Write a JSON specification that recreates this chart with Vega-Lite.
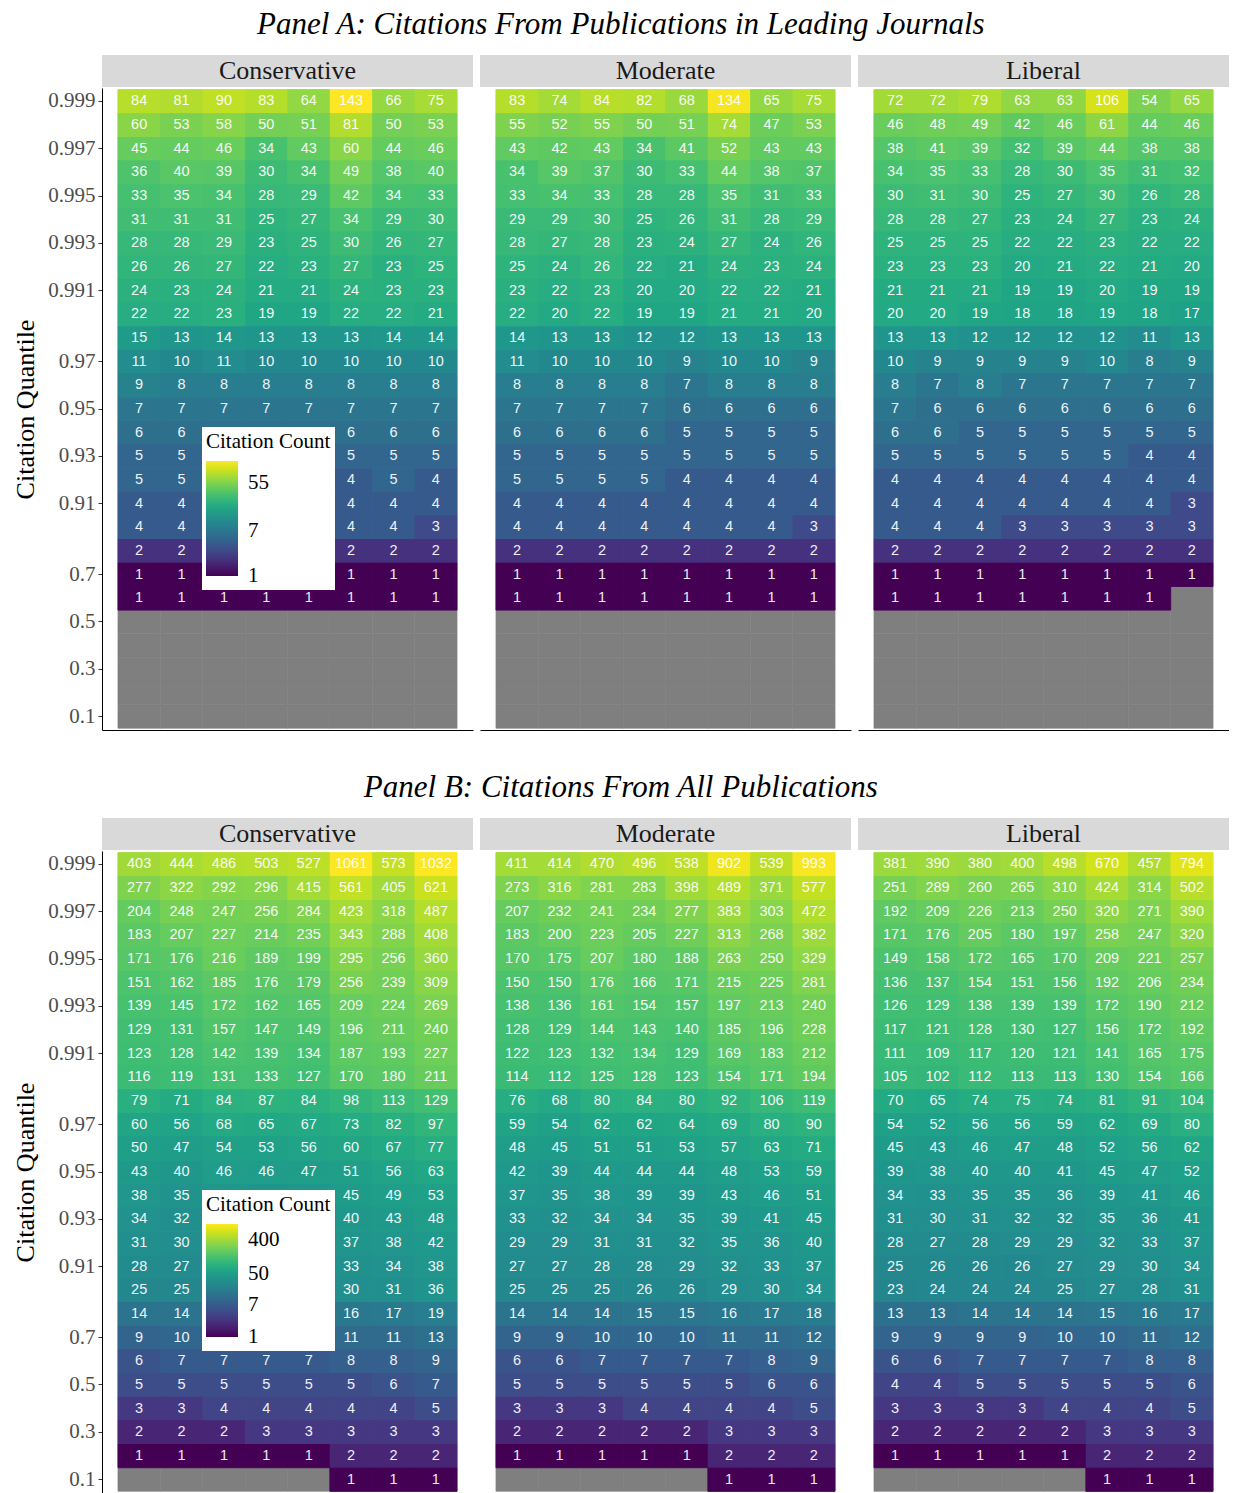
{
"$schema":"https://vega.github.io/schema/vega-lite/v6.json",
"padding":{"left":12,"top":9,"right":0,"bottom":0},
"background":"white",
"config":{"font":"Liberation Serif","view":{"stroke":null},"axis":{"grid":false}},
"datasets":{
"AC":[
{"q":0.999,"c":1,"n":84},{"q":0.999,"c":2,"n":81},{"q":0.999,"c":3,"n":90},{"q":0.999,"c":4,"n":83},{"q":0.999,"c":5,"n":64},{"q":0.999,"c":6,"n":143},{"q":0.999,"c":7,"n":66},{"q":0.999,"c":8,"n":75},
{"q":0.998,"c":1,"n":60},{"q":0.998,"c":2,"n":53},{"q":0.998,"c":3,"n":58},{"q":0.998,"c":4,"n":50},{"q":0.998,"c":5,"n":51},{"q":0.998,"c":6,"n":81},{"q":0.998,"c":7,"n":50},{"q":0.998,"c":8,"n":53},
{"q":0.997,"c":1,"n":45},{"q":0.997,"c":2,"n":44},{"q":0.997,"c":3,"n":46},{"q":0.997,"c":4,"n":34},{"q":0.997,"c":5,"n":43},{"q":0.997,"c":6,"n":60},{"q":0.997,"c":7,"n":44},{"q":0.997,"c":8,"n":46},
{"q":0.996,"c":1,"n":36},{"q":0.996,"c":2,"n":40},{"q":0.996,"c":3,"n":39},{"q":0.996,"c":4,"n":30},{"q":0.996,"c":5,"n":34},{"q":0.996,"c":6,"n":49},{"q":0.996,"c":7,"n":38},{"q":0.996,"c":8,"n":40},
{"q":0.995,"c":1,"n":33},{"q":0.995,"c":2,"n":35},{"q":0.995,"c":3,"n":34},{"q":0.995,"c":4,"n":28},{"q":0.995,"c":5,"n":29},{"q":0.995,"c":6,"n":42},{"q":0.995,"c":7,"n":34},{"q":0.995,"c":8,"n":33},
{"q":0.994,"c":1,"n":31},{"q":0.994,"c":2,"n":31},{"q":0.994,"c":3,"n":31},{"q":0.994,"c":4,"n":25},{"q":0.994,"c":5,"n":27},{"q":0.994,"c":6,"n":34},{"q":0.994,"c":7,"n":29},{"q":0.994,"c":8,"n":30},
{"q":0.993,"c":1,"n":28},{"q":0.993,"c":2,"n":28},{"q":0.993,"c":3,"n":29},{"q":0.993,"c":4,"n":23},{"q":0.993,"c":5,"n":25},{"q":0.993,"c":6,"n":30},{"q":0.993,"c":7,"n":26},{"q":0.993,"c":8,"n":27},
{"q":0.992,"c":1,"n":26},{"q":0.992,"c":2,"n":26},{"q":0.992,"c":3,"n":27},{"q":0.992,"c":4,"n":22},{"q":0.992,"c":5,"n":23},{"q":0.992,"c":6,"n":27},{"q":0.992,"c":7,"n":23},{"q":0.992,"c":8,"n":25},
{"q":0.991,"c":1,"n":24},{"q":0.991,"c":2,"n":23},{"q":0.991,"c":3,"n":24},{"q":0.991,"c":4,"n":21},{"q":0.991,"c":5,"n":21},{"q":0.991,"c":6,"n":24},{"q":0.991,"c":7,"n":23},{"q":0.991,"c":8,"n":23},
{"q":0.99,"c":1,"n":22},{"q":0.99,"c":2,"n":22},{"q":0.99,"c":3,"n":23},{"q":0.99,"c":4,"n":19},{"q":0.99,"c":5,"n":19},{"q":0.99,"c":6,"n":22},{"q":0.99,"c":7,"n":22},{"q":0.99,"c":8,"n":21},
{"q":0.98,"c":1,"n":15},{"q":0.98,"c":2,"n":13},{"q":0.98,"c":3,"n":14},{"q":0.98,"c":4,"n":13},{"q":0.98,"c":5,"n":13},{"q":0.98,"c":6,"n":13},{"q":0.98,"c":7,"n":14},{"q":0.98,"c":8,"n":14},
{"q":0.97,"c":1,"n":11},{"q":0.97,"c":2,"n":10},{"q":0.97,"c":3,"n":11},{"q":0.97,"c":4,"n":10},{"q":0.97,"c":5,"n":10},{"q":0.97,"c":6,"n":10},{"q":0.97,"c":7,"n":10},{"q":0.97,"c":8,"n":10},
{"q":0.96,"c":1,"n":9},{"q":0.96,"c":2,"n":8},{"q":0.96,"c":3,"n":8},{"q":0.96,"c":4,"n":8},{"q":0.96,"c":5,"n":8},{"q":0.96,"c":6,"n":8},{"q":0.96,"c":7,"n":8},{"q":0.96,"c":8,"n":8},
{"q":0.95,"c":1,"n":7},{"q":0.95,"c":2,"n":7},{"q":0.95,"c":3,"n":7},{"q":0.95,"c":4,"n":7},{"q":0.95,"c":5,"n":7},{"q":0.95,"c":6,"n":7},{"q":0.95,"c":7,"n":7},{"q":0.95,"c":8,"n":7},
{"q":0.94,"c":1,"n":6},{"q":0.94,"c":2,"n":6},{"q":0.94,"c":3,"n":6},{"q":0.94,"c":4,"n":6},{"q":0.94,"c":5,"n":6},{"q":0.94,"c":6,"n":6},{"q":0.94,"c":7,"n":6},{"q":0.94,"c":8,"n":6},
{"q":0.93,"c":1,"n":5},{"q":0.93,"c":2,"n":5},{"q":0.93,"c":3,"n":5},{"q":0.93,"c":4,"n":5},{"q":0.93,"c":5,"n":5},{"q":0.93,"c":6,"n":5},{"q":0.93,"c":7,"n":5},{"q":0.93,"c":8,"n":5},
{"q":0.92,"c":1,"n":5},{"q":0.92,"c":2,"n":5},{"q":0.92,"c":3,"n":5},{"q":0.92,"c":4,"n":4},{"q":0.92,"c":5,"n":4},{"q":0.92,"c":6,"n":4},{"q":0.92,"c":7,"n":5},{"q":0.92,"c":8,"n":4},
{"q":0.91,"c":1,"n":4},{"q":0.91,"c":2,"n":4},{"q":0.91,"c":3,"n":4},{"q":0.91,"c":4,"n":4},{"q":0.91,"c":5,"n":4},{"q":0.91,"c":6,"n":4},{"q":0.91,"c":7,"n":4},{"q":0.91,"c":8,"n":4},
{"q":0.9,"c":1,"n":4},{"q":0.9,"c":2,"n":4},{"q":0.9,"c":3,"n":4},{"q":0.9,"c":4,"n":3},{"q":0.9,"c":5,"n":3},{"q":0.9,"c":6,"n":4},{"q":0.9,"c":7,"n":4},{"q":0.9,"c":8,"n":3},
{"q":0.8,"c":1,"n":2},{"q":0.8,"c":2,"n":2},{"q":0.8,"c":3,"n":2},{"q":0.8,"c":4,"n":2},{"q":0.8,"c":5,"n":2},{"q":0.8,"c":6,"n":2},{"q":0.8,"c":7,"n":2},{"q":0.8,"c":8,"n":2},
{"q":0.7,"c":1,"n":1},{"q":0.7,"c":2,"n":1},{"q":0.7,"c":3,"n":1},{"q":0.7,"c":4,"n":1},{"q":0.7,"c":5,"n":1},{"q":0.7,"c":6,"n":1},{"q":0.7,"c":7,"n":1},{"q":0.7,"c":8,"n":1},
{"q":0.6,"c":1,"n":1},{"q":0.6,"c":2,"n":1},{"q":0.6,"c":3,"n":1},{"q":0.6,"c":4,"n":1},{"q":0.6,"c":5,"n":1},{"q":0.6,"c":6,"n":1},{"q":0.6,"c":7,"n":1},{"q":0.6,"c":8,"n":1},
{"q":0.5,"c":1,"n":null},{"q":0.5,"c":2,"n":null},{"q":0.5,"c":3,"n":null},{"q":0.5,"c":4,"n":null},{"q":0.5,"c":5,"n":null},{"q":0.5,"c":6,"n":null},{"q":0.5,"c":7,"n":null},{"q":0.5,"c":8,"n":null},
{"q":0.4,"c":1,"n":null},{"q":0.4,"c":2,"n":null},{"q":0.4,"c":3,"n":null},{"q":0.4,"c":4,"n":null},{"q":0.4,"c":5,"n":null},{"q":0.4,"c":6,"n":null},{"q":0.4,"c":7,"n":null},{"q":0.4,"c":8,"n":null},
{"q":0.3,"c":1,"n":null},{"q":0.3,"c":2,"n":null},{"q":0.3,"c":3,"n":null},{"q":0.3,"c":4,"n":null},{"q":0.3,"c":5,"n":null},{"q":0.3,"c":6,"n":null},{"q":0.3,"c":7,"n":null},{"q":0.3,"c":8,"n":null},
{"q":0.2,"c":1,"n":null},{"q":0.2,"c":2,"n":null},{"q":0.2,"c":3,"n":null},{"q":0.2,"c":4,"n":null},{"q":0.2,"c":5,"n":null},{"q":0.2,"c":6,"n":null},{"q":0.2,"c":7,"n":null},{"q":0.2,"c":8,"n":null},
{"q":0.1,"c":1,"n":null},{"q":0.1,"c":2,"n":null},{"q":0.1,"c":3,"n":null},{"q":0.1,"c":4,"n":null},{"q":0.1,"c":5,"n":null},{"q":0.1,"c":6,"n":null},{"q":0.1,"c":7,"n":null},{"q":0.1,"c":8,"n":null}
],
"AM":[
{"q":0.999,"c":1,"n":83},{"q":0.999,"c":2,"n":74},{"q":0.999,"c":3,"n":84},{"q":0.999,"c":4,"n":82},{"q":0.999,"c":5,"n":68},{"q":0.999,"c":6,"n":134},{"q":0.999,"c":7,"n":65},{"q":0.999,"c":8,"n":75},
{"q":0.998,"c":1,"n":55},{"q":0.998,"c":2,"n":52},{"q":0.998,"c":3,"n":55},{"q":0.998,"c":4,"n":50},{"q":0.998,"c":5,"n":51},{"q":0.998,"c":6,"n":74},{"q":0.998,"c":7,"n":47},{"q":0.998,"c":8,"n":53},
{"q":0.997,"c":1,"n":43},{"q":0.997,"c":2,"n":42},{"q":0.997,"c":3,"n":43},{"q":0.997,"c":4,"n":34},{"q":0.997,"c":5,"n":41},{"q":0.997,"c":6,"n":52},{"q":0.997,"c":7,"n":43},{"q":0.997,"c":8,"n":43},
{"q":0.996,"c":1,"n":34},{"q":0.996,"c":2,"n":39},{"q":0.996,"c":3,"n":37},{"q":0.996,"c":4,"n":30},{"q":0.996,"c":5,"n":33},{"q":0.996,"c":6,"n":44},{"q":0.996,"c":7,"n":38},{"q":0.996,"c":8,"n":37},
{"q":0.995,"c":1,"n":33},{"q":0.995,"c":2,"n":34},{"q":0.995,"c":3,"n":33},{"q":0.995,"c":4,"n":28},{"q":0.995,"c":5,"n":28},{"q":0.995,"c":6,"n":35},{"q":0.995,"c":7,"n":31},{"q":0.995,"c":8,"n":33},
{"q":0.994,"c":1,"n":29},{"q":0.994,"c":2,"n":29},{"q":0.994,"c":3,"n":30},{"q":0.994,"c":4,"n":25},{"q":0.994,"c":5,"n":26},{"q":0.994,"c":6,"n":31},{"q":0.994,"c":7,"n":28},{"q":0.994,"c":8,"n":29},
{"q":0.993,"c":1,"n":28},{"q":0.993,"c":2,"n":27},{"q":0.993,"c":3,"n":28},{"q":0.993,"c":4,"n":23},{"q":0.993,"c":5,"n":24},{"q":0.993,"c":6,"n":27},{"q":0.993,"c":7,"n":24},{"q":0.993,"c":8,"n":26},
{"q":0.992,"c":1,"n":25},{"q":0.992,"c":2,"n":24},{"q":0.992,"c":3,"n":26},{"q":0.992,"c":4,"n":22},{"q":0.992,"c":5,"n":21},{"q":0.992,"c":6,"n":24},{"q":0.992,"c":7,"n":23},{"q":0.992,"c":8,"n":24},
{"q":0.991,"c":1,"n":23},{"q":0.991,"c":2,"n":22},{"q":0.991,"c":3,"n":23},{"q":0.991,"c":4,"n":20},{"q":0.991,"c":5,"n":20},{"q":0.991,"c":6,"n":22},{"q":0.991,"c":7,"n":22},{"q":0.991,"c":8,"n":21},
{"q":0.99,"c":1,"n":22},{"q":0.99,"c":2,"n":20},{"q":0.99,"c":3,"n":22},{"q":0.99,"c":4,"n":19},{"q":0.99,"c":5,"n":19},{"q":0.99,"c":6,"n":21},{"q":0.99,"c":7,"n":21},{"q":0.99,"c":8,"n":20},
{"q":0.98,"c":1,"n":14},{"q":0.98,"c":2,"n":13},{"q":0.98,"c":3,"n":13},{"q":0.98,"c":4,"n":12},{"q":0.98,"c":5,"n":12},{"q":0.98,"c":6,"n":13},{"q":0.98,"c":7,"n":13},{"q":0.98,"c":8,"n":13},
{"q":0.97,"c":1,"n":11},{"q":0.97,"c":2,"n":10},{"q":0.97,"c":3,"n":10},{"q":0.97,"c":4,"n":10},{"q":0.97,"c":5,"n":9},{"q":0.97,"c":6,"n":10},{"q":0.97,"c":7,"n":10},{"q":0.97,"c":8,"n":9},
{"q":0.96,"c":1,"n":8},{"q":0.96,"c":2,"n":8},{"q":0.96,"c":3,"n":8},{"q":0.96,"c":4,"n":8},{"q":0.96,"c":5,"n":7},{"q":0.96,"c":6,"n":8},{"q":0.96,"c":7,"n":8},{"q":0.96,"c":8,"n":8},
{"q":0.95,"c":1,"n":7},{"q":0.95,"c":2,"n":7},{"q":0.95,"c":3,"n":7},{"q":0.95,"c":4,"n":7},{"q":0.95,"c":5,"n":6},{"q":0.95,"c":6,"n":6},{"q":0.95,"c":7,"n":6},{"q":0.95,"c":8,"n":6},
{"q":0.94,"c":1,"n":6},{"q":0.94,"c":2,"n":6},{"q":0.94,"c":3,"n":6},{"q":0.94,"c":4,"n":6},{"q":0.94,"c":5,"n":5},{"q":0.94,"c":6,"n":5},{"q":0.94,"c":7,"n":5},{"q":0.94,"c":8,"n":5},
{"q":0.93,"c":1,"n":5},{"q":0.93,"c":2,"n":5},{"q":0.93,"c":3,"n":5},{"q":0.93,"c":4,"n":5},{"q":0.93,"c":5,"n":5},{"q":0.93,"c":6,"n":5},{"q":0.93,"c":7,"n":5},{"q":0.93,"c":8,"n":5},
{"q":0.92,"c":1,"n":5},{"q":0.92,"c":2,"n":5},{"q":0.92,"c":3,"n":5},{"q":0.92,"c":4,"n":5},{"q":0.92,"c":5,"n":4},{"q":0.92,"c":6,"n":4},{"q":0.92,"c":7,"n":4},{"q":0.92,"c":8,"n":4},
{"q":0.91,"c":1,"n":4},{"q":0.91,"c":2,"n":4},{"q":0.91,"c":3,"n":4},{"q":0.91,"c":4,"n":4},{"q":0.91,"c":5,"n":4},{"q":0.91,"c":6,"n":4},{"q":0.91,"c":7,"n":4},{"q":0.91,"c":8,"n":4},
{"q":0.9,"c":1,"n":4},{"q":0.9,"c":2,"n":4},{"q":0.9,"c":3,"n":4},{"q":0.9,"c":4,"n":4},{"q":0.9,"c":5,"n":4},{"q":0.9,"c":6,"n":4},{"q":0.9,"c":7,"n":4},{"q":0.9,"c":8,"n":3},
{"q":0.8,"c":1,"n":2},{"q":0.8,"c":2,"n":2},{"q":0.8,"c":3,"n":2},{"q":0.8,"c":4,"n":2},{"q":0.8,"c":5,"n":2},{"q":0.8,"c":6,"n":2},{"q":0.8,"c":7,"n":2},{"q":0.8,"c":8,"n":2},
{"q":0.7,"c":1,"n":1},{"q":0.7,"c":2,"n":1},{"q":0.7,"c":3,"n":1},{"q":0.7,"c":4,"n":1},{"q":0.7,"c":5,"n":1},{"q":0.7,"c":6,"n":1},{"q":0.7,"c":7,"n":1},{"q":0.7,"c":8,"n":1},
{"q":0.6,"c":1,"n":1},{"q":0.6,"c":2,"n":1},{"q":0.6,"c":3,"n":1},{"q":0.6,"c":4,"n":1},{"q":0.6,"c":5,"n":1},{"q":0.6,"c":6,"n":1},{"q":0.6,"c":7,"n":1},{"q":0.6,"c":8,"n":1},
{"q":0.5,"c":1,"n":null},{"q":0.5,"c":2,"n":null},{"q":0.5,"c":3,"n":null},{"q":0.5,"c":4,"n":null},{"q":0.5,"c":5,"n":null},{"q":0.5,"c":6,"n":null},{"q":0.5,"c":7,"n":null},{"q":0.5,"c":8,"n":null},
{"q":0.4,"c":1,"n":null},{"q":0.4,"c":2,"n":null},{"q":0.4,"c":3,"n":null},{"q":0.4,"c":4,"n":null},{"q":0.4,"c":5,"n":null},{"q":0.4,"c":6,"n":null},{"q":0.4,"c":7,"n":null},{"q":0.4,"c":8,"n":null},
{"q":0.3,"c":1,"n":null},{"q":0.3,"c":2,"n":null},{"q":0.3,"c":3,"n":null},{"q":0.3,"c":4,"n":null},{"q":0.3,"c":5,"n":null},{"q":0.3,"c":6,"n":null},{"q":0.3,"c":7,"n":null},{"q":0.3,"c":8,"n":null},
{"q":0.2,"c":1,"n":null},{"q":0.2,"c":2,"n":null},{"q":0.2,"c":3,"n":null},{"q":0.2,"c":4,"n":null},{"q":0.2,"c":5,"n":null},{"q":0.2,"c":6,"n":null},{"q":0.2,"c":7,"n":null},{"q":0.2,"c":8,"n":null},
{"q":0.1,"c":1,"n":null},{"q":0.1,"c":2,"n":null},{"q":0.1,"c":3,"n":null},{"q":0.1,"c":4,"n":null},{"q":0.1,"c":5,"n":null},{"q":0.1,"c":6,"n":null},{"q":0.1,"c":7,"n":null},{"q":0.1,"c":8,"n":null}
],
"AL":[
{"q":0.999,"c":1,"n":72},{"q":0.999,"c":2,"n":72},{"q":0.999,"c":3,"n":79},{"q":0.999,"c":4,"n":63},{"q":0.999,"c":5,"n":63},{"q":0.999,"c":6,"n":106},{"q":0.999,"c":7,"n":54},{"q":0.999,"c":8,"n":65},
{"q":0.998,"c":1,"n":46},{"q":0.998,"c":2,"n":48},{"q":0.998,"c":3,"n":49},{"q":0.998,"c":4,"n":42},{"q":0.998,"c":5,"n":46},{"q":0.998,"c":6,"n":61},{"q":0.998,"c":7,"n":44},{"q":0.998,"c":8,"n":46},
{"q":0.997,"c":1,"n":38},{"q":0.997,"c":2,"n":41},{"q":0.997,"c":3,"n":39},{"q":0.997,"c":4,"n":32},{"q":0.997,"c":5,"n":39},{"q":0.997,"c":6,"n":44},{"q":0.997,"c":7,"n":38},{"q":0.997,"c":8,"n":38},
{"q":0.996,"c":1,"n":34},{"q":0.996,"c":2,"n":35},{"q":0.996,"c":3,"n":33},{"q":0.996,"c":4,"n":28},{"q":0.996,"c":5,"n":30},{"q":0.996,"c":6,"n":35},{"q":0.996,"c":7,"n":31},{"q":0.996,"c":8,"n":32},
{"q":0.995,"c":1,"n":30},{"q":0.995,"c":2,"n":31},{"q":0.995,"c":3,"n":30},{"q":0.995,"c":4,"n":25},{"q":0.995,"c":5,"n":27},{"q":0.995,"c":6,"n":30},{"q":0.995,"c":7,"n":26},{"q":0.995,"c":8,"n":28},
{"q":0.994,"c":1,"n":28},{"q":0.994,"c":2,"n":28},{"q":0.994,"c":3,"n":27},{"q":0.994,"c":4,"n":23},{"q":0.994,"c":5,"n":24},{"q":0.994,"c":6,"n":27},{"q":0.994,"c":7,"n":23},{"q":0.994,"c":8,"n":24},
{"q":0.993,"c":1,"n":25},{"q":0.993,"c":2,"n":25},{"q":0.993,"c":3,"n":25},{"q":0.993,"c":4,"n":22},{"q":0.993,"c":5,"n":22},{"q":0.993,"c":6,"n":23},{"q":0.993,"c":7,"n":22},{"q":0.993,"c":8,"n":22},
{"q":0.992,"c":1,"n":23},{"q":0.992,"c":2,"n":23},{"q":0.992,"c":3,"n":23},{"q":0.992,"c":4,"n":20},{"q":0.992,"c":5,"n":21},{"q":0.992,"c":6,"n":22},{"q":0.992,"c":7,"n":21},{"q":0.992,"c":8,"n":20},
{"q":0.991,"c":1,"n":21},{"q":0.991,"c":2,"n":21},{"q":0.991,"c":3,"n":21},{"q":0.991,"c":4,"n":19},{"q":0.991,"c":5,"n":19},{"q":0.991,"c":6,"n":20},{"q":0.991,"c":7,"n":19},{"q":0.991,"c":8,"n":19},
{"q":0.99,"c":1,"n":20},{"q":0.99,"c":2,"n":20},{"q":0.99,"c":3,"n":19},{"q":0.99,"c":4,"n":18},{"q":0.99,"c":5,"n":18},{"q":0.99,"c":6,"n":19},{"q":0.99,"c":7,"n":18},{"q":0.99,"c":8,"n":17},
{"q":0.98,"c":1,"n":13},{"q":0.98,"c":2,"n":13},{"q":0.98,"c":3,"n":12},{"q":0.98,"c":4,"n":12},{"q":0.98,"c":5,"n":12},{"q":0.98,"c":6,"n":12},{"q":0.98,"c":7,"n":11},{"q":0.98,"c":8,"n":13},
{"q":0.97,"c":1,"n":10},{"q":0.97,"c":2,"n":9},{"q":0.97,"c":3,"n":9},{"q":0.97,"c":4,"n":9},{"q":0.97,"c":5,"n":9},{"q":0.97,"c":6,"n":10},{"q":0.97,"c":7,"n":8},{"q":0.97,"c":8,"n":9},
{"q":0.96,"c":1,"n":8},{"q":0.96,"c":2,"n":7},{"q":0.96,"c":3,"n":8},{"q":0.96,"c":4,"n":7},{"q":0.96,"c":5,"n":7},{"q":0.96,"c":6,"n":7},{"q":0.96,"c":7,"n":7},{"q":0.96,"c":8,"n":7},
{"q":0.95,"c":1,"n":7},{"q":0.95,"c":2,"n":6},{"q":0.95,"c":3,"n":6},{"q":0.95,"c":4,"n":6},{"q":0.95,"c":5,"n":6},{"q":0.95,"c":6,"n":6},{"q":0.95,"c":7,"n":6},{"q":0.95,"c":8,"n":6},
{"q":0.94,"c":1,"n":6},{"q":0.94,"c":2,"n":6},{"q":0.94,"c":3,"n":5},{"q":0.94,"c":4,"n":5},{"q":0.94,"c":5,"n":5},{"q":0.94,"c":6,"n":5},{"q":0.94,"c":7,"n":5},{"q":0.94,"c":8,"n":5},
{"q":0.93,"c":1,"n":5},{"q":0.93,"c":2,"n":5},{"q":0.93,"c":3,"n":5},{"q":0.93,"c":4,"n":5},{"q":0.93,"c":5,"n":5},{"q":0.93,"c":6,"n":5},{"q":0.93,"c":7,"n":4},{"q":0.93,"c":8,"n":4},
{"q":0.92,"c":1,"n":4},{"q":0.92,"c":2,"n":4},{"q":0.92,"c":3,"n":4},{"q":0.92,"c":4,"n":4},{"q":0.92,"c":5,"n":4},{"q":0.92,"c":6,"n":4},{"q":0.92,"c":7,"n":4},{"q":0.92,"c":8,"n":4},
{"q":0.91,"c":1,"n":4},{"q":0.91,"c":2,"n":4},{"q":0.91,"c":3,"n":4},{"q":0.91,"c":4,"n":4},{"q":0.91,"c":5,"n":4},{"q":0.91,"c":6,"n":4},{"q":0.91,"c":7,"n":4},{"q":0.91,"c":8,"n":3},
{"q":0.9,"c":1,"n":4},{"q":0.9,"c":2,"n":4},{"q":0.9,"c":3,"n":4},{"q":0.9,"c":4,"n":3},{"q":0.9,"c":5,"n":3},{"q":0.9,"c":6,"n":3},{"q":0.9,"c":7,"n":3},{"q":0.9,"c":8,"n":3},
{"q":0.8,"c":1,"n":2},{"q":0.8,"c":2,"n":2},{"q":0.8,"c":3,"n":2},{"q":0.8,"c":4,"n":2},{"q":0.8,"c":5,"n":2},{"q":0.8,"c":6,"n":2},{"q":0.8,"c":7,"n":2},{"q":0.8,"c":8,"n":2},
{"q":0.7,"c":1,"n":1},{"q":0.7,"c":2,"n":1},{"q":0.7,"c":3,"n":1},{"q":0.7,"c":4,"n":1},{"q":0.7,"c":5,"n":1},{"q":0.7,"c":6,"n":1},{"q":0.7,"c":7,"n":1},{"q":0.7,"c":8,"n":1},
{"q":0.6,"c":1,"n":1},{"q":0.6,"c":2,"n":1},{"q":0.6,"c":3,"n":1},{"q":0.6,"c":4,"n":1},{"q":0.6,"c":5,"n":1},{"q":0.6,"c":6,"n":1},{"q":0.6,"c":7,"n":1},{"q":0.6,"c":8,"n":null},
{"q":0.5,"c":1,"n":null},{"q":0.5,"c":2,"n":null},{"q":0.5,"c":3,"n":null},{"q":0.5,"c":4,"n":null},{"q":0.5,"c":5,"n":null},{"q":0.5,"c":6,"n":null},{"q":0.5,"c":7,"n":null},{"q":0.5,"c":8,"n":null},
{"q":0.4,"c":1,"n":null},{"q":0.4,"c":2,"n":null},{"q":0.4,"c":3,"n":null},{"q":0.4,"c":4,"n":null},{"q":0.4,"c":5,"n":null},{"q":0.4,"c":6,"n":null},{"q":0.4,"c":7,"n":null},{"q":0.4,"c":8,"n":null},
{"q":0.3,"c":1,"n":null},{"q":0.3,"c":2,"n":null},{"q":0.3,"c":3,"n":null},{"q":0.3,"c":4,"n":null},{"q":0.3,"c":5,"n":null},{"q":0.3,"c":6,"n":null},{"q":0.3,"c":7,"n":null},{"q":0.3,"c":8,"n":null},
{"q":0.2,"c":1,"n":null},{"q":0.2,"c":2,"n":null},{"q":0.2,"c":3,"n":null},{"q":0.2,"c":4,"n":null},{"q":0.2,"c":5,"n":null},{"q":0.2,"c":6,"n":null},{"q":0.2,"c":7,"n":null},{"q":0.2,"c":8,"n":null},
{"q":0.1,"c":1,"n":null},{"q":0.1,"c":2,"n":null},{"q":0.1,"c":3,"n":null},{"q":0.1,"c":4,"n":null},{"q":0.1,"c":5,"n":null},{"q":0.1,"c":6,"n":null},{"q":0.1,"c":7,"n":null},{"q":0.1,"c":8,"n":null}
],
"BC":[
{"q":0.999,"c":1,"n":403},{"q":0.999,"c":2,"n":444},{"q":0.999,"c":3,"n":486},{"q":0.999,"c":4,"n":503},{"q":0.999,"c":5,"n":527},{"q":0.999,"c":6,"n":1061},{"q":0.999,"c":7,"n":573},{"q":0.999,"c":8,"n":1032},
{"q":0.998,"c":1,"n":277},{"q":0.998,"c":2,"n":322},{"q":0.998,"c":3,"n":292},{"q":0.998,"c":4,"n":296},{"q":0.998,"c":5,"n":415},{"q":0.998,"c":6,"n":561},{"q":0.998,"c":7,"n":405},{"q":0.998,"c":8,"n":621},
{"q":0.997,"c":1,"n":204},{"q":0.997,"c":2,"n":248},{"q":0.997,"c":3,"n":247},{"q":0.997,"c":4,"n":256},{"q":0.997,"c":5,"n":284},{"q":0.997,"c":6,"n":423},{"q":0.997,"c":7,"n":318},{"q":0.997,"c":8,"n":487},
{"q":0.996,"c":1,"n":183},{"q":0.996,"c":2,"n":207},{"q":0.996,"c":3,"n":227},{"q":0.996,"c":4,"n":214},{"q":0.996,"c":5,"n":235},{"q":0.996,"c":6,"n":343},{"q":0.996,"c":7,"n":288},{"q":0.996,"c":8,"n":408},
{"q":0.995,"c":1,"n":171},{"q":0.995,"c":2,"n":176},{"q":0.995,"c":3,"n":216},{"q":0.995,"c":4,"n":189},{"q":0.995,"c":5,"n":199},{"q":0.995,"c":6,"n":295},{"q":0.995,"c":7,"n":256},{"q":0.995,"c":8,"n":360},
{"q":0.994,"c":1,"n":151},{"q":0.994,"c":2,"n":162},{"q":0.994,"c":3,"n":185},{"q":0.994,"c":4,"n":176},{"q":0.994,"c":5,"n":179},{"q":0.994,"c":6,"n":256},{"q":0.994,"c":7,"n":239},{"q":0.994,"c":8,"n":309},
{"q":0.993,"c":1,"n":139},{"q":0.993,"c":2,"n":145},{"q":0.993,"c":3,"n":172},{"q":0.993,"c":4,"n":162},{"q":0.993,"c":5,"n":165},{"q":0.993,"c":6,"n":209},{"q":0.993,"c":7,"n":224},{"q":0.993,"c":8,"n":269},
{"q":0.992,"c":1,"n":129},{"q":0.992,"c":2,"n":131},{"q":0.992,"c":3,"n":157},{"q":0.992,"c":4,"n":147},{"q":0.992,"c":5,"n":149},{"q":0.992,"c":6,"n":196},{"q":0.992,"c":7,"n":211},{"q":0.992,"c":8,"n":240},
{"q":0.991,"c":1,"n":123},{"q":0.991,"c":2,"n":128},{"q":0.991,"c":3,"n":142},{"q":0.991,"c":4,"n":139},{"q":0.991,"c":5,"n":134},{"q":0.991,"c":6,"n":187},{"q":0.991,"c":7,"n":193},{"q":0.991,"c":8,"n":227},
{"q":0.99,"c":1,"n":116},{"q":0.99,"c":2,"n":119},{"q":0.99,"c":3,"n":131},{"q":0.99,"c":4,"n":133},{"q":0.99,"c":5,"n":127},{"q":0.99,"c":6,"n":170},{"q":0.99,"c":7,"n":180},{"q":0.99,"c":8,"n":211},
{"q":0.98,"c":1,"n":79},{"q":0.98,"c":2,"n":71},{"q":0.98,"c":3,"n":84},{"q":0.98,"c":4,"n":87},{"q":0.98,"c":5,"n":84},{"q":0.98,"c":6,"n":98},{"q":0.98,"c":7,"n":113},{"q":0.98,"c":8,"n":129},
{"q":0.97,"c":1,"n":60},{"q":0.97,"c":2,"n":56},{"q":0.97,"c":3,"n":68},{"q":0.97,"c":4,"n":65},{"q":0.97,"c":5,"n":67},{"q":0.97,"c":6,"n":73},{"q":0.97,"c":7,"n":82},{"q":0.97,"c":8,"n":97},
{"q":0.96,"c":1,"n":50},{"q":0.96,"c":2,"n":47},{"q":0.96,"c":3,"n":54},{"q":0.96,"c":4,"n":53},{"q":0.96,"c":5,"n":56},{"q":0.96,"c":6,"n":60},{"q":0.96,"c":7,"n":67},{"q":0.96,"c":8,"n":77},
{"q":0.95,"c":1,"n":43},{"q":0.95,"c":2,"n":40},{"q":0.95,"c":3,"n":46},{"q":0.95,"c":4,"n":46},{"q":0.95,"c":5,"n":47},{"q":0.95,"c":6,"n":51},{"q":0.95,"c":7,"n":56},{"q":0.95,"c":8,"n":63},
{"q":0.94,"c":1,"n":38},{"q":0.94,"c":2,"n":35},{"q":0.94,"c":3,"n":40},{"q":0.94,"c":4,"n":39},{"q":0.94,"c":5,"n":41},{"q":0.94,"c":6,"n":45},{"q":0.94,"c":7,"n":49},{"q":0.94,"c":8,"n":53},
{"q":0.93,"c":1,"n":34},{"q":0.93,"c":2,"n":32},{"q":0.93,"c":3,"n":36},{"q":0.93,"c":4,"n":35},{"q":0.93,"c":5,"n":36},{"q":0.93,"c":6,"n":40},{"q":0.93,"c":7,"n":43},{"q":0.93,"c":8,"n":48},
{"q":0.92,"c":1,"n":31},{"q":0.92,"c":2,"n":30},{"q":0.92,"c":3,"n":33},{"q":0.92,"c":4,"n":32},{"q":0.92,"c":5,"n":33},{"q":0.92,"c":6,"n":37},{"q":0.92,"c":7,"n":38},{"q":0.92,"c":8,"n":42},
{"q":0.91,"c":1,"n":28},{"q":0.91,"c":2,"n":27},{"q":0.91,"c":3,"n":30},{"q":0.91,"c":4,"n":29},{"q":0.91,"c":5,"n":30},{"q":0.91,"c":6,"n":33},{"q":0.91,"c":7,"n":34},{"q":0.91,"c":8,"n":38},
{"q":0.9,"c":1,"n":25},{"q":0.9,"c":2,"n":25},{"q":0.9,"c":3,"n":27},{"q":0.9,"c":4,"n":26},{"q":0.9,"c":5,"n":27},{"q":0.9,"c":6,"n":30},{"q":0.9,"c":7,"n":31},{"q":0.9,"c":8,"n":36},
{"q":0.8,"c":1,"n":14},{"q":0.8,"c":2,"n":14},{"q":0.8,"c":3,"n":15},{"q":0.8,"c":4,"n":15},{"q":0.8,"c":5,"n":15},{"q":0.8,"c":6,"n":16},{"q":0.8,"c":7,"n":17},{"q":0.8,"c":8,"n":19},
{"q":0.7,"c":1,"n":9},{"q":0.7,"c":2,"n":10},{"q":0.7,"c":3,"n":10},{"q":0.7,"c":4,"n":10},{"q":0.7,"c":5,"n":10},{"q":0.7,"c":6,"n":11},{"q":0.7,"c":7,"n":11},{"q":0.7,"c":8,"n":13},
{"q":0.6,"c":1,"n":6},{"q":0.6,"c":2,"n":7},{"q":0.6,"c":3,"n":7},{"q":0.6,"c":4,"n":7},{"q":0.6,"c":5,"n":7},{"q":0.6,"c":6,"n":8},{"q":0.6,"c":7,"n":8},{"q":0.6,"c":8,"n":9},
{"q":0.5,"c":1,"n":5},{"q":0.5,"c":2,"n":5},{"q":0.5,"c":3,"n":5},{"q":0.5,"c":4,"n":5},{"q":0.5,"c":5,"n":5},{"q":0.5,"c":6,"n":5},{"q":0.5,"c":7,"n":6},{"q":0.5,"c":8,"n":7},
{"q":0.4,"c":1,"n":3},{"q":0.4,"c":2,"n":3},{"q":0.4,"c":3,"n":4},{"q":0.4,"c":4,"n":4},{"q":0.4,"c":5,"n":4},{"q":0.4,"c":6,"n":4},{"q":0.4,"c":7,"n":4},{"q":0.4,"c":8,"n":5},
{"q":0.3,"c":1,"n":2},{"q":0.3,"c":2,"n":2},{"q":0.3,"c":3,"n":2},{"q":0.3,"c":4,"n":3},{"q":0.3,"c":5,"n":3},{"q":0.3,"c":6,"n":3},{"q":0.3,"c":7,"n":3},{"q":0.3,"c":8,"n":3},
{"q":0.2,"c":1,"n":1},{"q":0.2,"c":2,"n":1},{"q":0.2,"c":3,"n":1},{"q":0.2,"c":4,"n":1},{"q":0.2,"c":5,"n":1},{"q":0.2,"c":6,"n":2},{"q":0.2,"c":7,"n":2},{"q":0.2,"c":8,"n":2},
{"q":0.1,"c":1,"n":null},{"q":0.1,"c":2,"n":null},{"q":0.1,"c":3,"n":null},{"q":0.1,"c":4,"n":null},{"q":0.1,"c":5,"n":null},{"q":0.1,"c":6,"n":1},{"q":0.1,"c":7,"n":1},{"q":0.1,"c":8,"n":1}
],
"BM":[
{"q":0.999,"c":1,"n":411},{"q":0.999,"c":2,"n":414},{"q":0.999,"c":3,"n":470},{"q":0.999,"c":4,"n":496},{"q":0.999,"c":5,"n":538},{"q":0.999,"c":6,"n":902},{"q":0.999,"c":7,"n":539},{"q":0.999,"c":8,"n":993},
{"q":0.998,"c":1,"n":273},{"q":0.998,"c":2,"n":316},{"q":0.998,"c":3,"n":281},{"q":0.998,"c":4,"n":283},{"q":0.998,"c":5,"n":398},{"q":0.998,"c":6,"n":489},{"q":0.998,"c":7,"n":371},{"q":0.998,"c":8,"n":577},
{"q":0.997,"c":1,"n":207},{"q":0.997,"c":2,"n":232},{"q":0.997,"c":3,"n":241},{"q":0.997,"c":4,"n":234},{"q":0.997,"c":5,"n":277},{"q":0.997,"c":6,"n":383},{"q":0.997,"c":7,"n":303},{"q":0.997,"c":8,"n":472},
{"q":0.996,"c":1,"n":183},{"q":0.996,"c":2,"n":200},{"q":0.996,"c":3,"n":223},{"q":0.996,"c":4,"n":205},{"q":0.996,"c":5,"n":227},{"q":0.996,"c":6,"n":313},{"q":0.996,"c":7,"n":268},{"q":0.996,"c":8,"n":382},
{"q":0.995,"c":1,"n":170},{"q":0.995,"c":2,"n":175},{"q":0.995,"c":3,"n":207},{"q":0.995,"c":4,"n":180},{"q":0.995,"c":5,"n":188},{"q":0.995,"c":6,"n":263},{"q":0.995,"c":7,"n":250},{"q":0.995,"c":8,"n":329},
{"q":0.994,"c":1,"n":150},{"q":0.994,"c":2,"n":150},{"q":0.994,"c":3,"n":176},{"q":0.994,"c":4,"n":166},{"q":0.994,"c":5,"n":171},{"q":0.994,"c":6,"n":215},{"q":0.994,"c":7,"n":225},{"q":0.994,"c":8,"n":281},
{"q":0.993,"c":1,"n":138},{"q":0.993,"c":2,"n":136},{"q":0.993,"c":3,"n":161},{"q":0.993,"c":4,"n":154},{"q":0.993,"c":5,"n":157},{"q":0.993,"c":6,"n":197},{"q":0.993,"c":7,"n":213},{"q":0.993,"c":8,"n":240},
{"q":0.992,"c":1,"n":128},{"q":0.992,"c":2,"n":129},{"q":0.992,"c":3,"n":144},{"q":0.992,"c":4,"n":143},{"q":0.992,"c":5,"n":140},{"q":0.992,"c":6,"n":185},{"q":0.992,"c":7,"n":196},{"q":0.992,"c":8,"n":228},
{"q":0.991,"c":1,"n":122},{"q":0.991,"c":2,"n":123},{"q":0.991,"c":3,"n":132},{"q":0.991,"c":4,"n":134},{"q":0.991,"c":5,"n":129},{"q":0.991,"c":6,"n":169},{"q":0.991,"c":7,"n":183},{"q":0.991,"c":8,"n":212},
{"q":0.99,"c":1,"n":114},{"q":0.99,"c":2,"n":112},{"q":0.99,"c":3,"n":125},{"q":0.99,"c":4,"n":128},{"q":0.99,"c":5,"n":123},{"q":0.99,"c":6,"n":154},{"q":0.99,"c":7,"n":171},{"q":0.99,"c":8,"n":194},
{"q":0.98,"c":1,"n":76},{"q":0.98,"c":2,"n":68},{"q":0.98,"c":3,"n":80},{"q":0.98,"c":4,"n":84},{"q":0.98,"c":5,"n":80},{"q":0.98,"c":6,"n":92},{"q":0.98,"c":7,"n":106},{"q":0.98,"c":8,"n":119},
{"q":0.97,"c":1,"n":59},{"q":0.97,"c":2,"n":54},{"q":0.97,"c":3,"n":62},{"q":0.97,"c":4,"n":62},{"q":0.97,"c":5,"n":64},{"q":0.97,"c":6,"n":69},{"q":0.97,"c":7,"n":80},{"q":0.97,"c":8,"n":90},
{"q":0.96,"c":1,"n":48},{"q":0.96,"c":2,"n":45},{"q":0.96,"c":3,"n":51},{"q":0.96,"c":4,"n":51},{"q":0.96,"c":5,"n":53},{"q":0.96,"c":6,"n":57},{"q":0.96,"c":7,"n":63},{"q":0.96,"c":8,"n":71},
{"q":0.95,"c":1,"n":42},{"q":0.95,"c":2,"n":39},{"q":0.95,"c":3,"n":44},{"q":0.95,"c":4,"n":44},{"q":0.95,"c":5,"n":44},{"q":0.95,"c":6,"n":48},{"q":0.95,"c":7,"n":53},{"q":0.95,"c":8,"n":59},
{"q":0.94,"c":1,"n":37},{"q":0.94,"c":2,"n":35},{"q":0.94,"c":3,"n":38},{"q":0.94,"c":4,"n":39},{"q":0.94,"c":5,"n":39},{"q":0.94,"c":6,"n":43},{"q":0.94,"c":7,"n":46},{"q":0.94,"c":8,"n":51},
{"q":0.93,"c":1,"n":33},{"q":0.93,"c":2,"n":32},{"q":0.93,"c":3,"n":34},{"q":0.93,"c":4,"n":34},{"q":0.93,"c":5,"n":35},{"q":0.93,"c":6,"n":39},{"q":0.93,"c":7,"n":41},{"q":0.93,"c":8,"n":45},
{"q":0.92,"c":1,"n":29},{"q":0.92,"c":2,"n":29},{"q":0.92,"c":3,"n":31},{"q":0.92,"c":4,"n":31},{"q":0.92,"c":5,"n":32},{"q":0.92,"c":6,"n":35},{"q":0.92,"c":7,"n":36},{"q":0.92,"c":8,"n":40},
{"q":0.91,"c":1,"n":27},{"q":0.91,"c":2,"n":27},{"q":0.91,"c":3,"n":28},{"q":0.91,"c":4,"n":28},{"q":0.91,"c":5,"n":29},{"q":0.91,"c":6,"n":32},{"q":0.91,"c":7,"n":33},{"q":0.91,"c":8,"n":37},
{"q":0.9,"c":1,"n":25},{"q":0.9,"c":2,"n":25},{"q":0.9,"c":3,"n":25},{"q":0.9,"c":4,"n":26},{"q":0.9,"c":5,"n":26},{"q":0.9,"c":6,"n":29},{"q":0.9,"c":7,"n":30},{"q":0.9,"c":8,"n":34},
{"q":0.8,"c":1,"n":14},{"q":0.8,"c":2,"n":14},{"q":0.8,"c":3,"n":14},{"q":0.8,"c":4,"n":15},{"q":0.8,"c":5,"n":15},{"q":0.8,"c":6,"n":16},{"q":0.8,"c":7,"n":17},{"q":0.8,"c":8,"n":18},
{"q":0.7,"c":1,"n":9},{"q":0.7,"c":2,"n":9},{"q":0.7,"c":3,"n":10},{"q":0.7,"c":4,"n":10},{"q":0.7,"c":5,"n":10},{"q":0.7,"c":6,"n":11},{"q":0.7,"c":7,"n":11},{"q":0.7,"c":8,"n":12},
{"q":0.6,"c":1,"n":6},{"q":0.6,"c":2,"n":6},{"q":0.6,"c":3,"n":7},{"q":0.6,"c":4,"n":7},{"q":0.6,"c":5,"n":7},{"q":0.6,"c":6,"n":7},{"q":0.6,"c":7,"n":8},{"q":0.6,"c":8,"n":9},
{"q":0.5,"c":1,"n":5},{"q":0.5,"c":2,"n":5},{"q":0.5,"c":3,"n":5},{"q":0.5,"c":4,"n":5},{"q":0.5,"c":5,"n":5},{"q":0.5,"c":6,"n":5},{"q":0.5,"c":7,"n":6},{"q":0.5,"c":8,"n":6},
{"q":0.4,"c":1,"n":3},{"q":0.4,"c":2,"n":3},{"q":0.4,"c":3,"n":3},{"q":0.4,"c":4,"n":4},{"q":0.4,"c":5,"n":4},{"q":0.4,"c":6,"n":4},{"q":0.4,"c":7,"n":4},{"q":0.4,"c":8,"n":5},
{"q":0.3,"c":1,"n":2},{"q":0.3,"c":2,"n":2},{"q":0.3,"c":3,"n":2},{"q":0.3,"c":4,"n":2},{"q":0.3,"c":5,"n":2},{"q":0.3,"c":6,"n":3},{"q":0.3,"c":7,"n":3},{"q":0.3,"c":8,"n":3},
{"q":0.2,"c":1,"n":1},{"q":0.2,"c":2,"n":1},{"q":0.2,"c":3,"n":1},{"q":0.2,"c":4,"n":1},{"q":0.2,"c":5,"n":1},{"q":0.2,"c":6,"n":2},{"q":0.2,"c":7,"n":2},{"q":0.2,"c":8,"n":2},
{"q":0.1,"c":1,"n":null},{"q":0.1,"c":2,"n":null},{"q":0.1,"c":3,"n":null},{"q":0.1,"c":4,"n":null},{"q":0.1,"c":5,"n":null},{"q":0.1,"c":6,"n":1},{"q":0.1,"c":7,"n":1},{"q":0.1,"c":8,"n":1}
],
"BL":[
{"q":0.999,"c":1,"n":381},{"q":0.999,"c":2,"n":390},{"q":0.999,"c":3,"n":380},{"q":0.999,"c":4,"n":400},{"q":0.999,"c":5,"n":498},{"q":0.999,"c":6,"n":670},{"q":0.999,"c":7,"n":457},{"q":0.999,"c":8,"n":794},
{"q":0.998,"c":1,"n":251},{"q":0.998,"c":2,"n":289},{"q":0.998,"c":3,"n":260},{"q":0.998,"c":4,"n":265},{"q":0.998,"c":5,"n":310},{"q":0.998,"c":6,"n":424},{"q":0.998,"c":7,"n":314},{"q":0.998,"c":8,"n":502},
{"q":0.997,"c":1,"n":192},{"q":0.997,"c":2,"n":209},{"q":0.997,"c":3,"n":226},{"q":0.997,"c":4,"n":213},{"q":0.997,"c":5,"n":250},{"q":0.997,"c":6,"n":320},{"q":0.997,"c":7,"n":271},{"q":0.997,"c":8,"n":390},
{"q":0.996,"c":1,"n":171},{"q":0.996,"c":2,"n":176},{"q":0.996,"c":3,"n":205},{"q":0.996,"c":4,"n":180},{"q":0.996,"c":5,"n":197},{"q":0.996,"c":6,"n":258},{"q":0.996,"c":7,"n":247},{"q":0.996,"c":8,"n":320},
{"q":0.995,"c":1,"n":149},{"q":0.995,"c":2,"n":158},{"q":0.995,"c":3,"n":172},{"q":0.995,"c":4,"n":165},{"q":0.995,"c":5,"n":170},{"q":0.995,"c":6,"n":209},{"q":0.995,"c":7,"n":221},{"q":0.995,"c":8,"n":257},
{"q":0.994,"c":1,"n":136},{"q":0.994,"c":2,"n":137},{"q":0.994,"c":3,"n":154},{"q":0.994,"c":4,"n":151},{"q":0.994,"c":5,"n":156},{"q":0.994,"c":6,"n":192},{"q":0.994,"c":7,"n":206},{"q":0.994,"c":8,"n":234},
{"q":0.993,"c":1,"n":126},{"q":0.993,"c":2,"n":129},{"q":0.993,"c":3,"n":138},{"q":0.993,"c":4,"n":139},{"q":0.993,"c":5,"n":139},{"q":0.993,"c":6,"n":172},{"q":0.993,"c":7,"n":190},{"q":0.993,"c":8,"n":212},
{"q":0.992,"c":1,"n":117},{"q":0.992,"c":2,"n":121},{"q":0.992,"c":3,"n":128},{"q":0.992,"c":4,"n":130},{"q":0.992,"c":5,"n":127},{"q":0.992,"c":6,"n":156},{"q":0.992,"c":7,"n":172},{"q":0.992,"c":8,"n":192},
{"q":0.991,"c":1,"n":111},{"q":0.991,"c":2,"n":109},{"q":0.991,"c":3,"n":117},{"q":0.991,"c":4,"n":120},{"q":0.991,"c":5,"n":121},{"q":0.991,"c":6,"n":141},{"q":0.991,"c":7,"n":165},{"q":0.991,"c":8,"n":175},
{"q":0.99,"c":1,"n":105},{"q":0.99,"c":2,"n":102},{"q":0.99,"c":3,"n":112},{"q":0.99,"c":4,"n":113},{"q":0.99,"c":5,"n":113},{"q":0.99,"c":6,"n":130},{"q":0.99,"c":7,"n":154},{"q":0.99,"c":8,"n":166},
{"q":0.98,"c":1,"n":70},{"q":0.98,"c":2,"n":65},{"q":0.98,"c":3,"n":74},{"q":0.98,"c":4,"n":75},{"q":0.98,"c":5,"n":74},{"q":0.98,"c":6,"n":81},{"q":0.98,"c":7,"n":91},{"q":0.98,"c":8,"n":104},
{"q":0.97,"c":1,"n":54},{"q":0.97,"c":2,"n":52},{"q":0.97,"c":3,"n":56},{"q":0.97,"c":4,"n":56},{"q":0.97,"c":5,"n":59},{"q":0.97,"c":6,"n":62},{"q":0.97,"c":7,"n":69},{"q":0.97,"c":8,"n":80},
{"q":0.96,"c":1,"n":45},{"q":0.96,"c":2,"n":43},{"q":0.96,"c":3,"n":46},{"q":0.96,"c":4,"n":47},{"q":0.96,"c":5,"n":48},{"q":0.96,"c":6,"n":52},{"q":0.96,"c":7,"n":56},{"q":0.96,"c":8,"n":62},
{"q":0.95,"c":1,"n":39},{"q":0.95,"c":2,"n":38},{"q":0.95,"c":3,"n":40},{"q":0.95,"c":4,"n":40},{"q":0.95,"c":5,"n":41},{"q":0.95,"c":6,"n":45},{"q":0.95,"c":7,"n":47},{"q":0.95,"c":8,"n":52},
{"q":0.94,"c":1,"n":34},{"q":0.94,"c":2,"n":33},{"q":0.94,"c":3,"n":35},{"q":0.94,"c":4,"n":35},{"q":0.94,"c":5,"n":36},{"q":0.94,"c":6,"n":39},{"q":0.94,"c":7,"n":41},{"q":0.94,"c":8,"n":46},
{"q":0.93,"c":1,"n":31},{"q":0.93,"c":2,"n":30},{"q":0.93,"c":3,"n":31},{"q":0.93,"c":4,"n":32},{"q":0.93,"c":5,"n":32},{"q":0.93,"c":6,"n":35},{"q":0.93,"c":7,"n":36},{"q":0.93,"c":8,"n":41},
{"q":0.92,"c":1,"n":28},{"q":0.92,"c":2,"n":27},{"q":0.92,"c":3,"n":28},{"q":0.92,"c":4,"n":29},{"q":0.92,"c":5,"n":29},{"q":0.92,"c":6,"n":32},{"q":0.92,"c":7,"n":33},{"q":0.92,"c":8,"n":37},
{"q":0.91,"c":1,"n":25},{"q":0.91,"c":2,"n":26},{"q":0.91,"c":3,"n":26},{"q":0.91,"c":4,"n":26},{"q":0.91,"c":5,"n":27},{"q":0.91,"c":6,"n":29},{"q":0.91,"c":7,"n":30},{"q":0.91,"c":8,"n":34},
{"q":0.9,"c":1,"n":23},{"q":0.9,"c":2,"n":24},{"q":0.9,"c":3,"n":24},{"q":0.9,"c":4,"n":24},{"q":0.9,"c":5,"n":25},{"q":0.9,"c":6,"n":27},{"q":0.9,"c":7,"n":28},{"q":0.9,"c":8,"n":31},
{"q":0.8,"c":1,"n":13},{"q":0.8,"c":2,"n":13},{"q":0.8,"c":3,"n":14},{"q":0.8,"c":4,"n":14},{"q":0.8,"c":5,"n":14},{"q":0.8,"c":6,"n":15},{"q":0.8,"c":7,"n":16},{"q":0.8,"c":8,"n":17},
{"q":0.7,"c":1,"n":9},{"q":0.7,"c":2,"n":9},{"q":0.7,"c":3,"n":9},{"q":0.7,"c":4,"n":9},{"q":0.7,"c":5,"n":10},{"q":0.7,"c":6,"n":10},{"q":0.7,"c":7,"n":11},{"q":0.7,"c":8,"n":12},
{"q":0.6,"c":1,"n":6},{"q":0.6,"c":2,"n":6},{"q":0.6,"c":3,"n":7},{"q":0.6,"c":4,"n":7},{"q":0.6,"c":5,"n":7},{"q":0.6,"c":6,"n":7},{"q":0.6,"c":7,"n":8},{"q":0.6,"c":8,"n":8},
{"q":0.5,"c":1,"n":4},{"q":0.5,"c":2,"n":4},{"q":0.5,"c":3,"n":5},{"q":0.5,"c":4,"n":5},{"q":0.5,"c":5,"n":5},{"q":0.5,"c":6,"n":5},{"q":0.5,"c":7,"n":5},{"q":0.5,"c":8,"n":6},
{"q":0.4,"c":1,"n":3},{"q":0.4,"c":2,"n":3},{"q":0.4,"c":3,"n":3},{"q":0.4,"c":4,"n":3},{"q":0.4,"c":5,"n":4},{"q":0.4,"c":6,"n":4},{"q":0.4,"c":7,"n":4},{"q":0.4,"c":8,"n":5},
{"q":0.3,"c":1,"n":2},{"q":0.3,"c":2,"n":2},{"q":0.3,"c":3,"n":2},{"q":0.3,"c":4,"n":2},{"q":0.3,"c":5,"n":2},{"q":0.3,"c":6,"n":3},{"q":0.3,"c":7,"n":3},{"q":0.3,"c":8,"n":3},
{"q":0.2,"c":1,"n":1},{"q":0.2,"c":2,"n":1},{"q":0.2,"c":3,"n":1},{"q":0.2,"c":4,"n":1},{"q":0.2,"c":5,"n":1},{"q":0.2,"c":6,"n":2},{"q":0.2,"c":7,"n":2},{"q":0.2,"c":8,"n":2},
{"q":0.1,"c":1,"n":null},{"q":0.1,"c":2,"n":null},{"q":0.1,"c":3,"n":null},{"q":0.1,"c":4,"n":null},{"q":0.1,"c":5,"n":null},{"q":0.1,"c":6,"n":1},{"q":0.1,"c":7,"n":1},{"q":0.1,"c":8,"n":1}
]
},
"spacing":42,
"resolve":{"scale":{"color":"independent","stroke":"independent"},"legend":{"color":"independent","stroke":"independent"}},
"vconcat":[
{"title":{"text":"Panel A: Citations From Publications in Leading Journals","font":"Liberation Serif","fontSize":31,"fontStyle":"italic","fontWeight":"normal","color":"black","anchor":"middle","frame":"bounds","offset":14},
"spacing":7,
"resolve":{"scale":{"color":"independent","stroke":"independent"},"legend":{"color":"independent","stroke":"independent"}},
"hconcat":[
{"spacing":1,"resolve":{"scale":{"color":"independent","stroke":"independent"},"legend":{"color":"independent","stroke":"independent"}},"vconcat":[
{"width":371,"height":32,"data":{"values":[{"g":"Conservative"}]},"view":{"fill":"#d9d9d9","stroke":null},"mark":{"type":"text","font":"Liberation Serif","fontSize":26,"color":"#1a1a1a"},"encoding":{"text":{"field":"g","type":"nominal"}}},
{"width":371,"height":642,"data":{"name":"AC"},
"encoding":{
"x":{"field":"c","type":"ordinal","scale":{"paddingInner":0,"paddingOuter":0.376},"axis":{"labels":false,"ticks":false,"title":null,"domainColor":"#000","domainWidth":1}},
"y":{"field":"q","type":"ordinal","scale":{"domain":[0.999,0.998,0.997,0.996,0.995,0.994,0.993,0.992,0.991,0.99,0.98,0.97,0.96,0.95,0.94,0.93,0.92,0.91,0.9,0.8,0.7,0.6,0.5,0.4,0.3,0.2,0.1],"paddingInner":0,"paddingOuter":0.07},"axis":{"values":[0.999,0.997,0.995,0.993,0.991,0.97,0.95,0.93,0.91,0.7,0.5,0.3,0.1],"title":"Citation Quantile","titleFont":"Liberation Serif","titleFontSize":26,"titleFontWeight":"normal","titleColor":"black","titlePadding":9,"labelFont":"Liberation Serif","labelFontSize":21,"labelColor":"#4d4d4d","labelPadding":3,"tickColor":"#333","tickSize":4,"domainColor":"#000","domainWidth":1}}
},
"layer":[
{"transform":[{"filter":"datum.n == null"}],"mark":{"type":"rect","fill":"#7f7f7f","stroke":"#7f7f7f","strokeWidth":0.6}},
{"transform":[{"filter":"datum.n != null"}],"mark":{"type":"rect","filled":false,"strokeWidth":1},"encoding":{"stroke":{"field":"n","type":"quantitative","scale":{"type":"log","scheme":"viridis","domain":[1,143.0001]},"legend":null}}},
{"transform":[{"filter":"datum.n != null"}],"mark":{"type":"rect"},"encoding":{"color":{"field":"n","type":"quantitative","scale":{"type":"log","scheme":"viridis","domain":[1,143]},"legend":{"type":"gradient","orient":"none","legendX":100,"legendY":339,"title":"Citation Count","values":[1,7,55],"fillColor":"white","padding":4,"gradientLength":115,"gradientThickness":32,"gradientStrokeWidth":0,"titleFont":"Liberation Serif","titleFontSize":21,"titleFontWeight":"normal","titleColor":"black","titlePadding":9,"labelFont":"Liberation Serif","labelFontSize":21,"labelColor":"black","labelOffset":10,"direction":"vertical","encode":{"labels":{"update":{"baseline":{"value":"middle"}}}}}}}},
{"transform":[{"filter":"datum.n != null"}],"mark":{"type":"text","font":"Liberation Sans","fontSize":14.5,"color":"white","opacity":0.92},"encoding":{"text":{"field":"n","type":"nominal"}}}
]}
]},
{"spacing":1,"resolve":{"scale":{"color":"independent","stroke":"independent"},"legend":{"color":"independent","stroke":"independent"}},"vconcat":[
{"width":371,"height":32,"data":{"values":[{"g":"Moderate"}]},"view":{"fill":"#d9d9d9","stroke":null},"mark":{"type":"text","font":"Liberation Serif","fontSize":26,"color":"#1a1a1a"},"encoding":{"text":{"field":"g","type":"nominal"}}},
{"width":371,"height":642,"data":{"name":"AM"},
"encoding":{
"x":{"field":"c","type":"ordinal","scale":{"paddingInner":0,"paddingOuter":0.376},"axis":{"labels":false,"ticks":false,"title":null,"domainColor":"#000","domainWidth":1}},
"y":{"field":"q","type":"ordinal","scale":{"domain":[0.999,0.998,0.997,0.996,0.995,0.994,0.993,0.992,0.991,0.99,0.98,0.97,0.96,0.95,0.94,0.93,0.92,0.91,0.9,0.8,0.7,0.6,0.5,0.4,0.3,0.2,0.1],"paddingInner":0,"paddingOuter":0.07},"axis":null}
},
"layer":[
{"transform":[{"filter":"datum.n == null"}],"mark":{"type":"rect","fill":"#7f7f7f","stroke":"#7f7f7f","strokeWidth":0.6}},
{"transform":[{"filter":"datum.n != null"}],"mark":{"type":"rect","filled":false,"strokeWidth":1},"encoding":{"stroke":{"field":"n","type":"quantitative","scale":{"type":"log","scheme":"viridis","domain":[1,143.0001]},"legend":null}}},
{"transform":[{"filter":"datum.n != null"}],"mark":{"type":"rect"},"encoding":{"color":{"field":"n","type":"quantitative","scale":{"type":"log","scheme":"viridis","domain":[1,143]},"legend":null}}},
{"transform":[{"filter":"datum.n != null"}],"mark":{"type":"text","font":"Liberation Sans","fontSize":14.5,"color":"white","opacity":0.92},"encoding":{"text":{"field":"n","type":"nominal"}}}
]}
]},
{"spacing":1,"resolve":{"scale":{"color":"independent","stroke":"independent"},"legend":{"color":"independent","stroke":"independent"}},"vconcat":[
{"width":371,"height":32,"data":{"values":[{"g":"Liberal"}]},"view":{"fill":"#d9d9d9","stroke":null},"mark":{"type":"text","font":"Liberation Serif","fontSize":26,"color":"#1a1a1a"},"encoding":{"text":{"field":"g","type":"nominal"}}},
{"width":371,"height":642,"data":{"name":"AL"},
"encoding":{
"x":{"field":"c","type":"ordinal","scale":{"paddingInner":0,"paddingOuter":0.376},"axis":{"labels":false,"ticks":false,"title":null,"domainColor":"#000","domainWidth":1}},
"y":{"field":"q","type":"ordinal","scale":{"domain":[0.999,0.998,0.997,0.996,0.995,0.994,0.993,0.992,0.991,0.99,0.98,0.97,0.96,0.95,0.94,0.93,0.92,0.91,0.9,0.8,0.7,0.6,0.5,0.4,0.3,0.2,0.1],"paddingInner":0,"paddingOuter":0.07},"axis":null}
},
"layer":[
{"transform":[{"filter":"datum.n == null"}],"mark":{"type":"rect","fill":"#7f7f7f","stroke":"#7f7f7f","strokeWidth":0.6}},
{"transform":[{"filter":"datum.n != null"}],"mark":{"type":"rect","filled":false,"strokeWidth":1},"encoding":{"stroke":{"field":"n","type":"quantitative","scale":{"type":"log","scheme":"viridis","domain":[1,143.0001]},"legend":null}}},
{"transform":[{"filter":"datum.n != null"}],"mark":{"type":"rect"},"encoding":{"color":{"field":"n","type":"quantitative","scale":{"type":"log","scheme":"viridis","domain":[1,143]},"legend":null}}},
{"transform":[{"filter":"datum.n != null"}],"mark":{"type":"text","font":"Liberation Sans","fontSize":14.5,"color":"white","opacity":0.92},"encoding":{"text":{"field":"n","type":"nominal"}}}
]}
]}
]},
{"title":{"text":"Panel B: Citations From All Publications","font":"Liberation Serif","fontSize":31,"fontStyle":"italic","fontWeight":"normal","color":"black","anchor":"middle","frame":"bounds","offset":14},
"spacing":7,
"resolve":{"scale":{"color":"independent","stroke":"independent"},"legend":{"color":"independent","stroke":"independent"}},
"hconcat":[
{"spacing":1,"resolve":{"scale":{"color":"independent","stroke":"independent"},"legend":{"color":"independent","stroke":"independent"}},"vconcat":[
{"width":371,"height":32,"data":{"values":[{"g":"Conservative"}]},"view":{"fill":"#d9d9d9","stroke":null},"mark":{"type":"text","font":"Liberation Serif","fontSize":26,"color":"#1a1a1a"},"encoding":{"text":{"field":"g","type":"nominal"}}},
{"width":371,"height":642,"data":{"name":"BC"},
"encoding":{
"x":{"field":"c","type":"ordinal","scale":{"paddingInner":0,"paddingOuter":0.376},"axis":{"labels":false,"ticks":false,"title":null,"domainColor":"#000","domainWidth":1}},
"y":{"field":"q","type":"ordinal","scale":{"domain":[0.999,0.998,0.997,0.996,0.995,0.994,0.993,0.992,0.991,0.99,0.98,0.97,0.96,0.95,0.94,0.93,0.92,0.91,0.9,0.8,0.7,0.6,0.5,0.4,0.3,0.2,0.1],"paddingInner":0,"paddingOuter":0.07},"axis":{"values":[0.999,0.997,0.995,0.993,0.991,0.97,0.95,0.93,0.91,0.7,0.5,0.3,0.1],"title":"Citation Quantile","titleFont":"Liberation Serif","titleFontSize":26,"titleFontWeight":"normal","titleColor":"black","titlePadding":9,"labelFont":"Liberation Serif","labelFontSize":21,"labelColor":"#4d4d4d","labelPadding":3,"tickColor":"#333","tickSize":4,"domainColor":"#000","domainWidth":1}}
},
"layer":[
{"transform":[{"filter":"datum.n == null"}],"mark":{"type":"rect","fill":"#7f7f7f","stroke":"#7f7f7f","strokeWidth":0.6}},
{"transform":[{"filter":"datum.n != null"}],"mark":{"type":"rect","filled":false,"strokeWidth":1},"encoding":{"stroke":{"field":"n","type":"quantitative","scale":{"type":"log","scheme":"viridis","domain":[1,1061.0001]},"legend":null}}},
{"transform":[{"filter":"datum.n != null"}],"mark":{"type":"rect"},"encoding":{"color":{"field":"n","type":"quantitative","scale":{"type":"log","scheme":"viridis","domain":[1,1061]},"legend":{"type":"gradient","orient":"none","legendX":100,"legendY":339,"title":"Citation Count","values":[1,7,50,400],"fillColor":"white","padding":4,"gradientLength":113,"gradientThickness":32,"gradientStrokeWidth":0,"titleFont":"Liberation Serif","titleFontSize":21,"titleFontWeight":"normal","titleColor":"black","titlePadding":9,"labelFont":"Liberation Serif","labelFontSize":21,"labelColor":"black","labelOffset":10,"direction":"vertical","encode":{"labels":{"update":{"baseline":{"value":"middle"}}}}}}}},
{"transform":[{"filter":"datum.n != null"}],"mark":{"type":"text","font":"Liberation Sans","fontSize":14.5,"color":"white","opacity":0.92},"encoding":{"text":{"field":"n","type":"nominal"}}}
]}
]},
{"spacing":1,"resolve":{"scale":{"color":"independent","stroke":"independent"},"legend":{"color":"independent","stroke":"independent"}},"vconcat":[
{"width":371,"height":32,"data":{"values":[{"g":"Moderate"}]},"view":{"fill":"#d9d9d9","stroke":null},"mark":{"type":"text","font":"Liberation Serif","fontSize":26,"color":"#1a1a1a"},"encoding":{"text":{"field":"g","type":"nominal"}}},
{"width":371,"height":642,"data":{"name":"BM"},
"encoding":{
"x":{"field":"c","type":"ordinal","scale":{"paddingInner":0,"paddingOuter":0.376},"axis":{"labels":false,"ticks":false,"title":null,"domainColor":"#000","domainWidth":1}},
"y":{"field":"q","type":"ordinal","scale":{"domain":[0.999,0.998,0.997,0.996,0.995,0.994,0.993,0.992,0.991,0.99,0.98,0.97,0.96,0.95,0.94,0.93,0.92,0.91,0.9,0.8,0.7,0.6,0.5,0.4,0.3,0.2,0.1],"paddingInner":0,"paddingOuter":0.07},"axis":null}
},
"layer":[
{"transform":[{"filter":"datum.n == null"}],"mark":{"type":"rect","fill":"#7f7f7f","stroke":"#7f7f7f","strokeWidth":0.6}},
{"transform":[{"filter":"datum.n != null"}],"mark":{"type":"rect","filled":false,"strokeWidth":1},"encoding":{"stroke":{"field":"n","type":"quantitative","scale":{"type":"log","scheme":"viridis","domain":[1,1061.0001]},"legend":null}}},
{"transform":[{"filter":"datum.n != null"}],"mark":{"type":"rect"},"encoding":{"color":{"field":"n","type":"quantitative","scale":{"type":"log","scheme":"viridis","domain":[1,1061]},"legend":null}}},
{"transform":[{"filter":"datum.n != null"}],"mark":{"type":"text","font":"Liberation Sans","fontSize":14.5,"color":"white","opacity":0.92},"encoding":{"text":{"field":"n","type":"nominal"}}}
]}
]},
{"spacing":1,"resolve":{"scale":{"color":"independent","stroke":"independent"},"legend":{"color":"independent","stroke":"independent"}},"vconcat":[
{"width":371,"height":32,"data":{"values":[{"g":"Liberal"}]},"view":{"fill":"#d9d9d9","stroke":null},"mark":{"type":"text","font":"Liberation Serif","fontSize":26,"color":"#1a1a1a"},"encoding":{"text":{"field":"g","type":"nominal"}}},
{"width":371,"height":642,"data":{"name":"BL"},
"encoding":{
"x":{"field":"c","type":"ordinal","scale":{"paddingInner":0,"paddingOuter":0.376},"axis":{"labels":false,"ticks":false,"title":null,"domainColor":"#000","domainWidth":1}},
"y":{"field":"q","type":"ordinal","scale":{"domain":[0.999,0.998,0.997,0.996,0.995,0.994,0.993,0.992,0.991,0.99,0.98,0.97,0.96,0.95,0.94,0.93,0.92,0.91,0.9,0.8,0.7,0.6,0.5,0.4,0.3,0.2,0.1],"paddingInner":0,"paddingOuter":0.07},"axis":null}
},
"layer":[
{"transform":[{"filter":"datum.n == null"}],"mark":{"type":"rect","fill":"#7f7f7f","stroke":"#7f7f7f","strokeWidth":0.6}},
{"transform":[{"filter":"datum.n != null"}],"mark":{"type":"rect","filled":false,"strokeWidth":1},"encoding":{"stroke":{"field":"n","type":"quantitative","scale":{"type":"log","scheme":"viridis","domain":[1,1061.0001]},"legend":null}}},
{"transform":[{"filter":"datum.n != null"}],"mark":{"type":"rect"},"encoding":{"color":{"field":"n","type":"quantitative","scale":{"type":"log","scheme":"viridis","domain":[1,1061]},"legend":null}}},
{"transform":[{"filter":"datum.n != null"}],"mark":{"type":"text","font":"Liberation Sans","fontSize":14.5,"color":"white","opacity":0.92},"encoding":{"text":{"field":"n","type":"nominal"}}}
]}
]}
]}
]
}
